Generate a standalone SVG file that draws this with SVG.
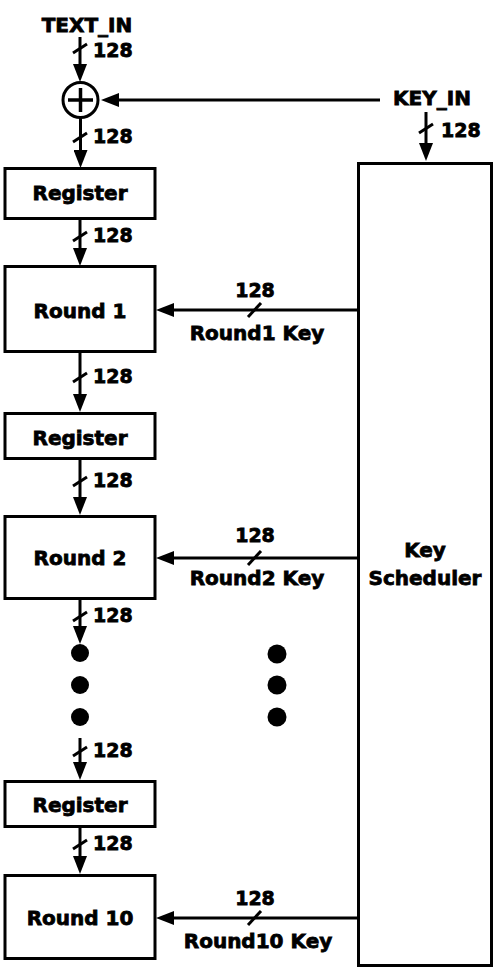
<svg xmlns="http://www.w3.org/2000/svg" width="497" height="970" viewBox="0 0 497 970">
<style>
.box{fill:#fff;stroke:#000;stroke-width:3}
.t{font-family:"DejaVu Sans","Liberation Sans",sans-serif;font-weight:bold;font-size:20px;fill:#000;stroke:#000;stroke-width:0.8;text-anchor:middle}
.n{font-family:"DejaVu Sans","Liberation Sans",sans-serif;font-weight:bold;font-size:19px;fill:#000;stroke:#000;stroke-width:0.8}
.w{stroke:#000;stroke-width:3;fill:none}
.s{stroke:#000;stroke-width:3;fill:none}
.dot{fill:#000}
</style>
<defs>
<marker id="ah" markerUnits="userSpaceOnUse" markerWidth="18" markerHeight="14" refX="7" refY="7" orient="auto">
<path d="M0,0 L18,7 L0,14 z" fill="#000"/>
</marker>
</defs>

<g id="text_in"><text class="t" x="87" y="32">TEXT_IN</text></g>
<g id="key_in"><text class="t" x="432" y="105">KEY_IN</text></g>
<g id="xor">
<circle cx="80.5" cy="100" r="17.5" fill="#fff" stroke="#000" stroke-width="3"/>
<path d="M68,100 H93 M80.5,88 V112" stroke="#000" stroke-width="3.5"/>
</g>
<g id="reg1"><rect class="box" x="5" y="168.5" width="150" height="50"/><text class="t" x="80" y="200">Register</text></g>
<g id="round1"><rect class="box" x="5" y="266.5" width="150" height="85"/><text class="t" x="80" y="318">Round 1</text></g>
<g id="reg2"><rect class="box" x="5" y="413.5" width="150" height="45"/><text class="t" x="80" y="445">Register</text></g>
<g id="round2"><rect class="box" x="5" y="516.5" width="150" height="82"/><text class="t" x="80" y="565">Round 2</text></g>
<g id="dots_left"><circle class="dot" cx="80" cy="653" r="9"/><circle class="dot" cx="80" cy="685" r="9"/><circle class="dot" cx="80" cy="717" r="9"/></g>
<g id="reg3"><rect class="box" x="5" y="781.5" width="150" height="45"/><text class="t" x="80" y="812">Register</text></g>
<g id="round10"><rect class="box" x="5" y="875.5" width="150" height="83"/><text class="t" x="80" y="925">Round 10</text></g>
<g id="keysched"><rect class="box" x="358.5" y="163.5" width="133" height="802"/><text class="t" x="425" y="557">Key</text><text class="t" x="425" y="585">Scheduler</text></g>
<g id="dots_right"><circle class="dot" cx="277" cy="654" r="9.5"/><circle class="dot" cx="277" cy="685" r="9.5"/><circle class="dot" cx="277" cy="717" r="9.5"/></g>

<g id="connectors">
<line class="w" x1="80" y1="37" x2="80" y2="71" marker-end="url(#ah)"/>
<line class="s" x1="73" y1="53" x2="87" y2="44"/>
<text class="n" x="93" y="57">128</text>

<line class="w" x1="80.5" y1="118" x2="80.5" y2="157" marker-end="url(#ah)"/>
<line class="s" x1="73" y1="142" x2="87" y2="133"/>
<text class="n" x="93" y="143">128</text>

<line class="w" x1="80" y1="220" x2="80" y2="255" marker-end="url(#ah)"/>
<line class="s" x1="73" y1="241" x2="87" y2="232"/>
<text class="n" x="93" y="242">128</text>

<line class="w" x1="80" y1="353" x2="80" y2="401" marker-end="url(#ah)"/>
<line class="s" x1="73" y1="382" x2="87" y2="373"/>
<text class="n" x="93" y="383">128</text>

<line class="w" x1="80" y1="460" x2="80" y2="504" marker-end="url(#ah)"/>
<line class="s" x1="73" y1="486" x2="87" y2="477"/>
<text class="n" x="93" y="487">128</text>

<line class="w" x1="80" y1="600" x2="80" y2="633" marker-end="url(#ah)"/>
<line class="s" x1="73" y1="621" x2="87" y2="612"/>
<text class="n" x="93" y="622">128</text>

<line class="w" x1="80" y1="738" x2="80" y2="769" marker-end="url(#ah)"/>
<line class="s" x1="73" y1="756" x2="87" y2="747"/>
<text class="n" x="93" y="757">128</text>

<line class="w" x1="80" y1="828" x2="80" y2="863" marker-end="url(#ah)"/>
<line class="s" x1="73" y1="849" x2="87" y2="840"/>
<text class="n" x="93" y="850">128</text>

<line class="w" x1="380" y1="100" x2="112" y2="100" marker-end="url(#ah)"/>

<line class="w" x1="426" y1="112" x2="426" y2="150" marker-end="url(#ah)"/>
<line class="s" x1="419" y1="133" x2="433" y2="124"/>
<text class="n" x="441" y="137">128</text>

<line class="w" x1="357" y1="310" x2="167" y2="310" marker-end="url(#ah)"/>
<line class="s" x1="248" y1="317" x2="261" y2="303"/>
<text class="n" x="255" y="297" text-anchor="middle">128</text>
<text class="t" x="257" y="340">Round1 Key</text>

<line class="w" x1="357" y1="558" x2="167" y2="558" marker-end="url(#ah)"/>
<line class="s" x1="248" y1="565" x2="261" y2="551"/>
<text class="n" x="255" y="542" text-anchor="middle">128</text>
<text class="t" x="257" y="585">Round2 Key</text>

<line class="w" x1="357" y1="918" x2="167" y2="918" marker-end="url(#ah)"/>
<line class="s" x1="248" y1="925" x2="261" y2="911"/>
<text class="n" x="255" y="905" text-anchor="middle">128</text>
<text class="t" x="258" y="948">Round10 Key</text>
</g>
</svg>
